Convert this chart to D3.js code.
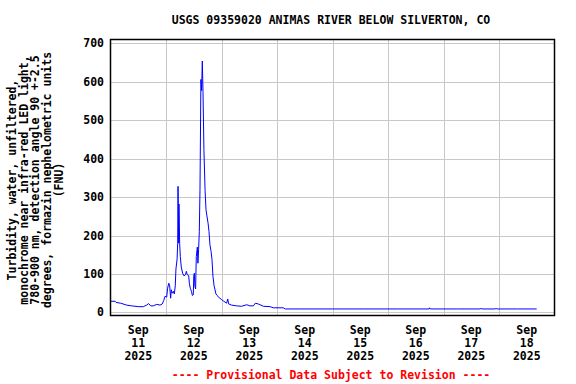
<!DOCTYPE html>
<html>
<head>
<meta charset="utf-8">
<title>USGS 09359020 Animas River below Silverton</title>
<style type="text/css">
  body{ margin:0; background:#fff; }
  text{ font-family:"DejaVu Sans Mono", monospace; font-weight:bold; font-size:11.5px; }
</style>
</head>
<body>
<div id="board"></div>
<script src="https://cdn.jsdelivr.net/npm/d3@7"></script>
<script>
// hours after Sep 11 2025 00:00, and turbidity in FNU
var hours = [0, 2, 2.4, 4.4, 7, 9.2, 12, 14.2, 15.6, 16.5, 17.4, 18.5, 20, 21.4, 22.4, 23,
  23.6, 24.3, 24.7, 25.2, 25.6, 26, 26.3, 26.7, 27.2, 27.6, 28, 28.3, 28.8, 29.05, 29.2,
  29.5, 29.6, 29.9, 30.2, 30.6, 31.2, 31.8, 32.4, 32.8, 33.2, 33.8, 34.1, 34.5, 35, 35.4,
  35.8, 36, 36.25, 36.5, 36.8, 37.1, 37.55, 37.8, 38.1, 38.4, 38.7, 39.1, 39.4, 39.7, 40,
  40.4, 40.9, 41.3, 41.7, 42.2, 42.6, 43, 43.5, 43.9, 44.3, 44.8, 45.2, 45.6, 46.2, 46.8,
  47.3, 48.1, 48.8, 49.5, 50.2, 50.7, 51.1, 52.4, 54.6, 56.7, 58.9, 60.3, 61.8, 62.6, 63.9,
  66.1, 69, 70.4, 74.7, 75.6, 82, 96, 110, 124, 137.8, 138, 138.3, 150, 160, 160.2, 160.5,
  166.5, 166.7, 167, 176, 184.3];
var turbidity = [29, 29, 26, 24, 19, 17, 15, 15, 19, 23, 17, 17, 21, 19, 22, 31,
  42, 40, 63, 76, 69, 37, 59, 50, 55, 48, 69, 113, 139, 180, 328,
  180, 282, 180, 145, 118, 102, 95, 98, 107, 98, 96, 76, 63, 55, 44,
  46, 94, 102, 68, 61, 145, 170, 128, 163, 210, 319, 606, 577, 654, 574,
  423, 317, 267, 251, 232, 210, 176, 158, 137, 94, 69, 59, 48, 44, 39,
  37, 33, 30, 27, 24, 35, 22, 19, 17, 16, 20, 17, 17, 24, 22,
  16, 15, 12, 12, 9, 9, 9, 9, 9, 9, 12, 9, 9, 9, 11, 9,
  9, 11, 9, 9, 9];
var dayTicks = [11, 12, 13, 14, 15, 16, 17, 18];
var yTicks = [0, 100, 200, 300, 400, 500, 600, 700];
var yLabel = ["Turbidity, water, unfiltered,",
  "monochrome near infra-red LED light,",
  "780-900 nm, detection angle 90 +-2.5",
  "degrees, formazin nephelometric units",
  "(FNU)"];
var title = "USGS 09359020 ANIMAS RIVER BELOW SILVERTON, CO";
var footer = "---- Provisional Data Subject to Revision ----";

var W = 576, H = 384;
var pLeft = 110.5, pRight = 554.5, pTop = 39.5, pBottom = 315.5;
var t0 = Date.UTC(2025, 8, 11);

var data = hours.map(function(h, i){ return { t: new Date(t0 + h * 3600e3), v: turbidity[i] }; });

var x = d3.scaleUtc().domain([new Date(t0), new Date(Date.UTC(2025, 8, 19))]).range([pLeft, pRight]);
var y = d3.scaleLinear().domain([-8, 710]).range([pBottom, pTop]);

var svg = d3.select('#board').append('svg').attr('width', W).attr('height', H);

// grid
var g = svg.append('g');
g.selectAll('.hgrid').data(yTicks).enter().append('line')
  .attr('x1', pLeft).attr('x2', pRight)
  .attr('y1', function(d){ return Math.round(y(d)) + 0.5; })
  .attr('y2', function(d){ return Math.round(y(d)) + 0.5; })
  .attr('stroke', '#c8c8c8').attr('stroke-width', 1);
var dayLines = dayTicks.slice(1).map(function(d){ return new Date(Date.UTC(2025, 8, d)); });
g.selectAll('.vgrid').data(dayLines).enter().append('line')
  .attr('y1', pTop).attr('y2', pBottom)
  .attr('x1', function(d){ return Math.round(x(d)) + 0.5; })
  .attr('x2', function(d){ return Math.round(x(d)) + 0.5; })
  .attr('stroke', '#c8c8c8').attr('stroke-width', 1);

// series
var line = d3.line().curve(d3.curveLinear)
  .x(function(d){ return x(d.t); })
  .y(function(d){ return y(d.v); });
svg.append('path').datum(data).attr('d', line)
  .attr('fill', 'none').attr('stroke', '#0000ff').attr('stroke-width', 1);

// frame
svg.append('rect').attr('x', pLeft).attr('y', pTop)
  .attr('width', pRight - pLeft).attr('height', pBottom - pTop)
  .attr('fill', 'none').attr('stroke', '#000').attr('stroke-width', 1.5);

// y ticks
svg.selectAll('.ytick').data(yTicks).enter().append('text')
  .attr('x', 104).attr('y', function(d){ return y(d); })
  .attr('dy', '0.35em').attr('text-anchor', 'end')
  .text(function(d){ return d; });

// x ticks (centred on noon)
var xt = svg.selectAll('.xtick').data(dayTicks).enter().append('text')
  .attr('text-anchor', 'middle')
  .attr('transform', function(d){ return 'translate(' + x(new Date(Date.UTC(2025, 8, d, 12))) + ',0)'; });
xt.append('tspan').attr('x', 0).attr('y', 334).text('Sep');
xt.append('tspan').attr('x', 0).attr('y', 347).text(function(d){ return d; });
xt.append('tspan').attr('x', 0).attr('y', 360).text('2025');

// y label
var yl = svg.append('text').attr('text-anchor', 'middle')
  .attr('transform', 'translate(16,180) rotate(-90)');
yl.selectAll('tspan').data(yLabel).enter().append('tspan')
  .attr('x', 0).attr('y', function(d, i){ return i * 11.7; })
  .text(function(d){ return d; });

// title + footer
svg.append('text').attr('x', 331).attr('y', 24).attr('text-anchor', 'middle').text(title);
svg.append('text').attr('x', 331).attr('y', 379).attr('text-anchor', 'middle')
  .attr('fill', '#ff0000').text(footer);
</script>
</body>
</html>
